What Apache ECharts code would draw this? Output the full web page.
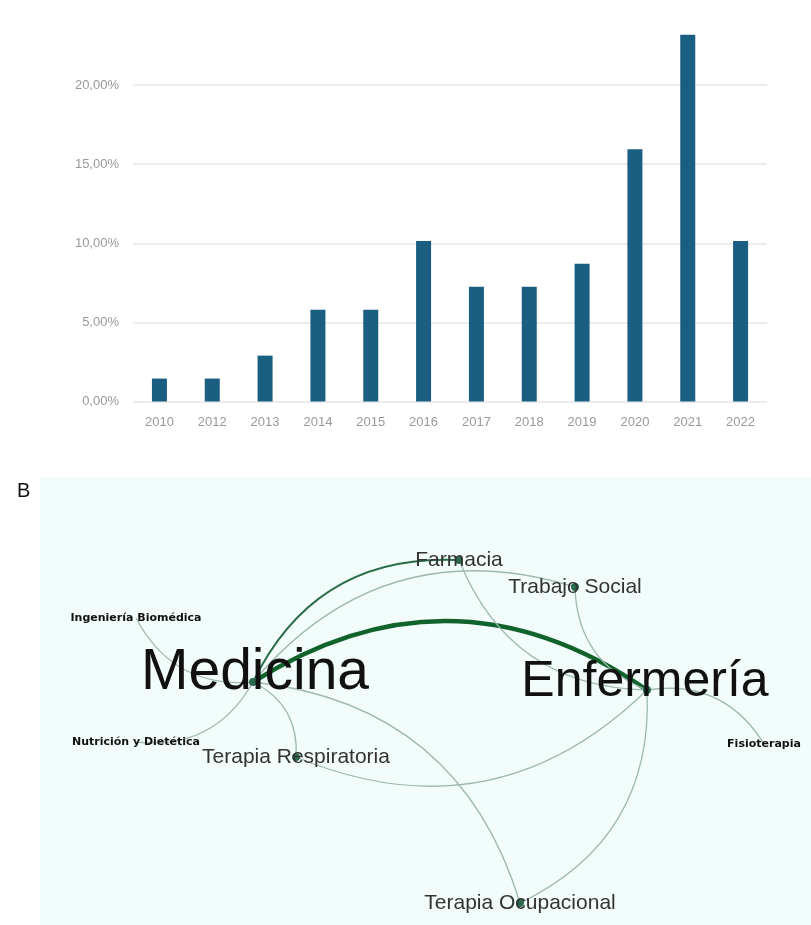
<!DOCTYPE html>
<html>
<head>
<meta charset="utf-8">
<script src="https://cdn.jsdelivr.net/npm/echarts@6/dist/echarts.min.js"></script>
<style>
  html, body { margin: 0; padding: 0; background: #ffffff; }
  #chart { width: 811px; height: 925px; }
</style>
</head>
<body>
<div id="chart"></div>
<script>
// Panel A: share of publications per year (%)
const years = ['2010', '2012', '2013', '2014', '2015', '2016', '2017', '2018', '2019', '2020', '2021', '2022'];
const shares = [1.45, 1.45, 2.90, 5.80, 5.80, 10.14, 7.25, 7.25, 8.70, 15.94, 23.19, 10.14];

// Panel B: co-authorship network between disciplines
const areas = ['Medicina', 'Enfermería', 'Farmacia', 'Trabajo Social', 'Ingeniería Biomédica',
  'Nutrición y Dietética', 'Terapia Respiratoria', 'Terapia Ocupacional', 'Fisioterapia'];
// layout positions of each discipline in the network plane
const areaX = [213, 607, 419, 535, 96, 96, 256, 480, 724];
const areaY = [205, 213, 83, 110, 141, 265, 280, 426, 267];
// label emphasis per discipline (size class)
const areaWeight = [5, 4, 2, 2, 1, 1, 2, 2, 1];

const linkSource = ['Medicina', 'Medicina', 'Medicina', 'Enfermería', 'Enfermería', 'Medicina',
  'Medicina', 'Medicina', 'Enfermería', 'Medicina', 'Enfermería', 'Enfermería'];
const linkTarget = ['Enfermería', 'Farmacia', 'Trabajo Social', 'Farmacia', 'Trabajo Social',
  'Ingeniería Biomédica', 'Nutrición y Dietética', 'Terapia Respiratoria', 'Terapia Respiratoria',
  'Terapia Ocupacional', 'Terapia Ocupacional', 'Fisioterapia'];
const linkWeight = [4, 2, 1, 1, 1, 1, 1, 1, 1, 1, 1, 1];

const FONT = "'Liberation Sans', Arial, sans-serif";

function labelStyleFor(w) {
  if (w === 5) return { fontSize: 57, color: '#111111', fontFamily: FONT, offset: [2, -9] };
  if (w === 4) return { fontSize: 50, color: '#111111', fontFamily: FONT, offset: [-2, -8] };
  if (w === 2) return { fontSize: 21, color: '#333333', fontFamily: FONT };
  return { fontSize: 11, color: '#111111', fontWeight: 'bold', fontFamily: "'DejaVu Sans', sans-serif" };
}

function lineStyleFor(w) {
  if (w >= 4) return { width: 4.5, color: '#11632c', opacity: 1 };
  if (w >= 2) return { width: 2, color: '#2c6d49', opacity: 1 };
  return { width: 1.3, color: '#9fbaad', opacity: 1 };
}

const nodes = areas.map((name, i) => ({
  name: name,
  value: [areaX[i], areaY[i]],
  symbolSize: areaWeight[i] === 1 ? 0 : 8,
  label: Object.assign({ show: true, position: 'inside' }, labelStyleFor(areaWeight[i]))
}));

const links = linkSource.map((s, i) => ({
  source: s,
  target: linkTarget[i],
  lineStyle: lineStyleFor(linkWeight[i])
}));

const pct = v => v.toFixed(2).replace('.', ',') + '%';

const chart = echarts.init(document.getElementById('chart'), null, { renderer: 'canvas' });

chart.setOption({
  backgroundColor: '#ffffff',
  animation: false,
  title: {
    text: 'B',
    left: 12,
    top: 476,
    textStyle: { fontSize: 20, fontWeight: 'normal', color: '#111111', fontFamily: FONT }
  },
  grid: [
    { left: 133, right: 44, top: 6, bottom: 523.5 },
    { left: 40, right: 0, top: 477, bottom: 0, show: true, backgroundColor: '#f2fcfb', borderWidth: 0 }
  ],
  xAxis: [
    {
      gridIndex: 0,
      type: 'category',
      data: years,
      axisLine: { show: false },
      axisTick: { show: false },
      axisLabel: { color: '#999999', fontSize: 13, margin: 14, fontFamily: FONT }
    },
    { gridIndex: 1, type: 'value', min: 0, max: 771, show: false }
  ],
  yAxis: [
    {
      gridIndex: 0,
      type: 'value',
      min: 0,
      max: 25,
      interval: 5,
      axisLine: { show: false },
      axisTick: { show: false },
      axisLabel: { color: '#999999', fontSize: 13, margin: 14, fontFamily: FONT, formatter: pct, showMaxLabel: false },
      splitLine: { show: true, showMaxLine: false, lineStyle: { color: '#e6e6e6', width: 1.5 } }
    },
    { gridIndex: 1, type: 'value', min: 0, max: 448, inverse: true, show: false }
  ],
  series: [
    {
      type: 'bar',
      xAxisIndex: 0,
      yAxisIndex: 0,
      data: shares,
      barWidth: 15,
      itemStyle: { color: '#1a5e81' }
    },
    {
      type: 'graph',
      coordinateSystem: 'cartesian2d',
      xAxisIndex: 1,
      yAxisIndex: 1,
      layout: 'none',
      roam: false,
      symbol: 'circle',
      itemStyle: { color: '#2a6b4c' },
      edgeSymbol: ['none', 'none'],
      lineStyle: { curveness: 0.33 },
      emphasis: { disabled: true },
      data: nodes,
      links: links
    }
  ]
});
</script>
</body>
</html>
